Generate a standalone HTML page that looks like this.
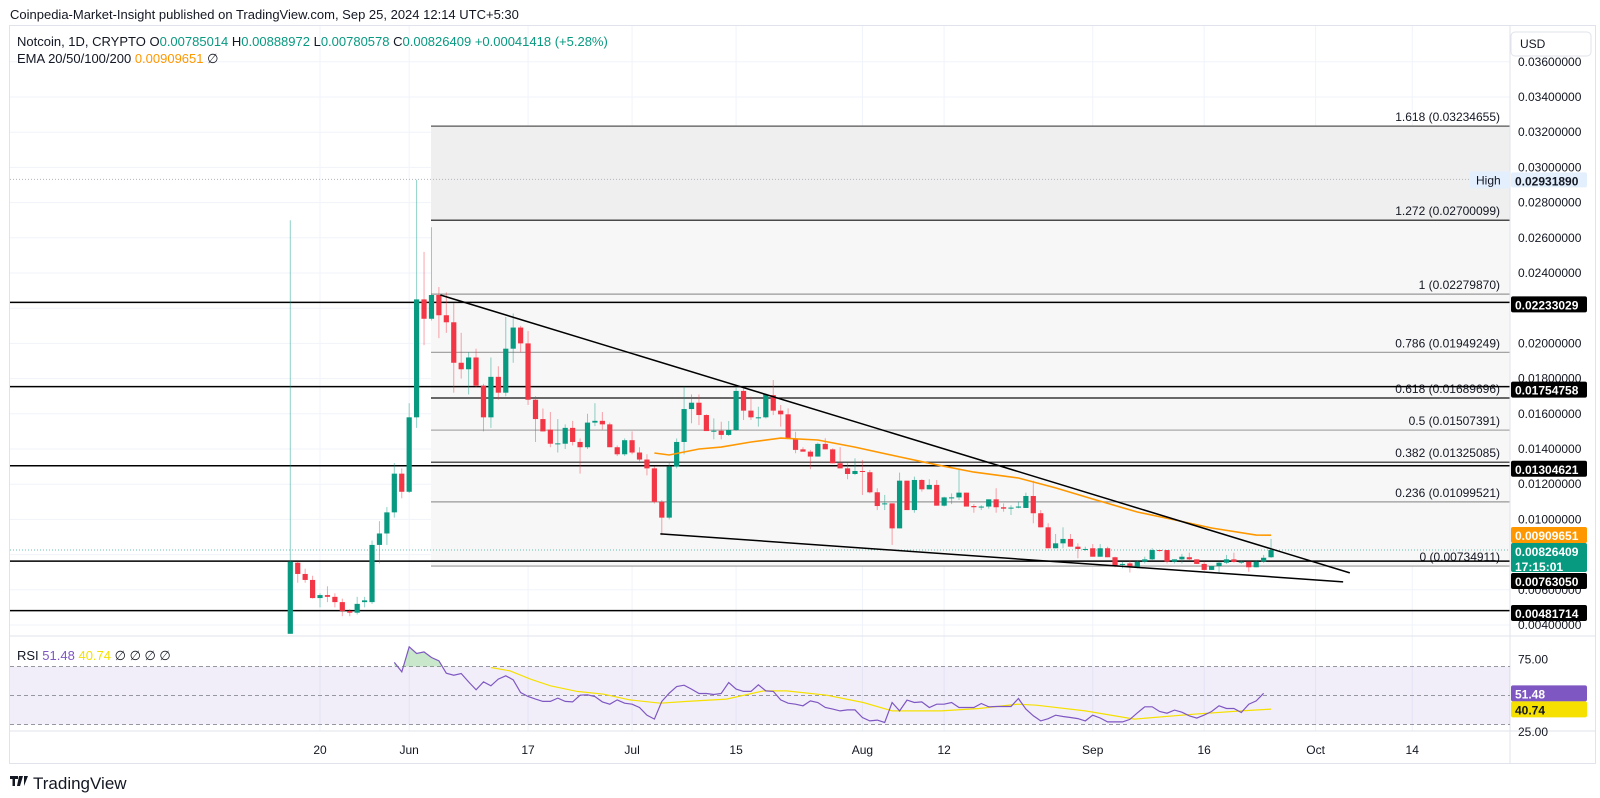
<!DOCTYPE html>
<html><head><meta charset="utf-8"><style>
html,body{margin:0;padding:0;background:#fff;width:1600px;height:798px;overflow:hidden}
svg{display:block;font-family:"Liberation Sans",sans-serif}
</style></head><body>
<svg id="chart" width="1600" height="798" viewBox="0 0 1600 798" xmlns="http://www.w3.org/2000/svg">
<rect x="0" y="0" width="1600" height="798" fill="#fff"/>
<text x="10" y="19" font-size="13" fill="#131722">Coinpedia-Market-Insight published on TradingView.com, Sep 25, 2024 12:14 UTC+5:30</text>
<rect x="9.5" y="25.5" width="1586" height="738" fill="none" stroke="#e0e3eb"/>
<g id="grid"></g>
<g id="fib"></g>
<g id="hlines"></g>
<g id="candles"></g>
<g id="overlay"></g>
<g id="rsi"></g>
<g id="axis"></g>
<text x="17" y="46" font-size="13" fill="#131722">Notcoin, 1D, CRYPTO  <tspan>O</tspan><tspan fill="#089981">0.00785014</tspan>  H<tspan fill="#089981">0.00888972</tspan>  L<tspan fill="#089981">0.00780578</tspan>  C<tspan fill="#089981">0.00826409</tspan>  <tspan fill="#089981">+0.00041418 (+5.28%)</tspan></text>
<text x="17" y="63" font-size="13" fill="#131722">EMA 20/50/100/200  <tspan fill="#ff9800">0.00909651</tspan>  ∅</text>
<text x="17" y="660" font-size="13" fill="#131722">RSI  <tspan fill="#7e57c2">51.48</tspan>  <tspan fill="#f5e000">40.74</tspan>  ∅  ∅  ∅  ∅</text>
<rect x="1511" y="32" width="80" height="24" rx="4" fill="#fff" stroke="#e0e3eb"/>
<text x="1520" y="48" font-size="12" fill="#131722">USD</text>
<g>
<path d="M10 776h8v3h-3v7h-2.5v-7H10z M19 776h4l-3 10h-3z M24 776h4l-4 10" fill="#131722"/>
<text x="33" y="789" font-size="17" fill="#131722">TradingView</text>
</g>
</svg>
<script>
const opens=[.0035,.00754,.0069,.00656,.00553,.0057,.0056,.0053,.0048,.0047,.0053,.0053,.00855,.0092,.0104,.0126,.01157,.0158,.0225,.0214,.02275,.0216,.0212,.0189,.01853,.0192,.0176,.0158,.0181,.0172,.0197,.0209,.0200,.0168,.0157,.0151,.0143,.0143,.0152,.0144,.0141,.0155,.0156,.0154,.0141,.0137,.0145,.0138,.0134,.0129,.0110,.0101,
.0130,.0144,.01627,.01663,.01593,.01502,.01504,.01480,.01508,.01730,.01618,.01580,.01580,.01706,.01618,.01597,.01457,.01398,.01385,.01357,.01429,.01398,.01319,.01290,.01258,.01275,.01268,.01154,.01091,.01091,.00949,.01220,.01053,.01224,.01171,.01196,.01078,.01125,.01125,.01152,.01076,.01073,.01073,.01114,.01069,.01067,.01067,.01065,.01133,.01035,.00955,.00836,.00864,.00889,.00845,.00832,.00836,.00788,.00836,.00785,.00747,.00750,.00728,.00760,.00773,.00826,.00826,.00760,.00773,.00785,.00773,.00747,.00713,.00735,.00754,.00773,.00760,.00760,.00728,.00760,.00785];
const highs=[.0270,.0076,.0072,.0068,.0058,.0062,.0058,.0055,.0049,.0056,.0056,.0088,.0099,.0107,.0132,.0129,.0166,.0293,.0252,.0266,.0232,.0229,.0223,.0206,.0195,.0197,.0177,.0192,.0187,.0215,.0217,.0210,.0207,.0170,.0163,.0161,.0157,.0154,.0156,.0146,.0160,.0166,.0161,.0155,.0142,.0146,.0150,.0141,.0137,.0130,.0111,.0132,
.0146,.01754,.01710,.01710,.01597,.01574,.01555,.01559,.01748,.01744,.01697,.01640,.01716,.01792,.01650,.01631,.01498,.01410,.01395,.01436,.01461,.01404,.01410,.01319,.01347,.01338,.01281,.01177,.01139,.01091,.01266,.01220,.01243,.01228,.01228,.01224,.01129,.01148,.01290,.01152,.01087,.01080,.01114,.01177,.01091,.01080,.01101,.01152,.01220,.01053,.00978,.00917,.00955,.00917,.00864,.00845,.00860,.00860,.00845,.00788,.00760,.00769,.00769,.00788,.00836,.00826,.00826,.00773,.00804,.00811,.00773,.00760,.00735,.00760,.00798,.00811,.00769,.00760,.00769,.00798,.00889];
const lows=[.0035,.0064,.0064,.0055,.0050,.0053,.0050,.0045,.0045,.0046,.0050,.0052,.0075,.00855,.0101,.0112,.0115,.0152,.0199,.0213,.0203,.0206,.0172,.0180,.0171,.0175,.0150,.0152,.0168,.0170,.0189,.0195,.0165,.0144,.0150,.0141,.0138,.0140,.0142,.0126,.0140,.0153,.0151,.0141,.0136,.0136,.0137,.0133,.0125,.0109,.0091,.0100,
.0129,.0137,.01546,.01536,.01502,.01455,.01455,.01474,.01504,.01565,.01565,.01527,.01574,.01593,.01527,.01457,.01376,.01385,.01285,.01357,.01398,.01319,.01296,.01228,.01252,.01139,.01148,.01053,.01053,.00855,.00949,.01053,.01038,.01158,.01171,.01078,.01073,.01087,.01110,.01073,.01038,.01053,.01061,.01038,.01044,.01025,.01063,.01065,.00978,.00955,.00836,.00836,.00836,.00845,.00779,.00821,.00788,.00788,.00785,.00728,.00722,.00698,.00722,.00750,.00769,.00817,.00750,.00750,.00750,.00769,.00747,.00709,.00713,.00694,.00747,.00754,.00747,.00702,.00728,.00752,.00781];
const closes=[.0076,.0069,.00656,.00553,.0057,.0056,.0053,.0048,.0047,.0052,.0054,.00855,.0092,.0104,.0126,.01157,.0158,.0225,.0214,.02275,.0216,.0212,.0189,.01853,.0192,.0176,.0158,.0181,.0172,.0197,.0209,.0200,.0168,.0157,.0150,.0143,.01432,.0152,.0144,.0141,.0155,.0156,.0154,.0141,.0137,.0145,.0138,.0134,.0129,.0110,.0101,.0130,
.0144,.01627,.01663,.01593,.01502,.01504,.01480,.01508,.01730,.01618,.01580,.01580,.01710,.01618,.01597,.01457,.01395,.01385,.01357,.01429,.01398,.01319,.01290,.01258,.01275,.01270,.01154,.01076,.01091,.00949,.01220,.01053,.01224,.01171,.01196,.01078,.01125,.01125,.01152,.01073,.01069,.01073,.01114,.01069,.01061,.01067,.01073,.01133,.01035,.00955,.00836,.00864,.00889,.00845,.00832,.00832,.00788,.00836,.00785,.00737,.00747,.00728,.00760,.00773,.00826,.00821,.00760,.00773,.00788,.00773,.00747,.00713,.00735,.00754,.00773,.00758,.00760,.00728,.00760,.00782,.00826];
const emaDays=[49,51,55,58,62,66,71,76,82,87,92,98,103,108,114,119,124,130,132];
const emaVals=[.01377,.01366,.01400,.01411,.01440,.01462,.01451,.01411,.01355,.01310,.01269,.01235,.01179,.01116,.01042,.00997,.00951,.00911,.00910];
const rsiStart=14;
const rsiVals=[72.8,66.3,83.6,79.0,80.1,76.2,73.9,65.4,64.0,65.2,59.4,53.9,59.4,56.7,61.3,63.6,60.8,52.1,49.3,47.5,45.9,45.9,48.2,45.9,45.6,50.2,50.5,49.3,45.6,44.0,47.0,44.7,44.0,41.7,36.4,33.7,45.9,51.6,56.2,57.1,54.4,51.4,51.4,50.7,51.4,59.0,54.4,52.8,52.8,57.4,53.2,52.8,47.0,44.7,44.0,42.9,46.3,45.2,41.7,40.6,39.4,40.1,40.1,34.8,
32.5,33,31.4,45.2,39.4,46.8,45.2,45.6,41.7,44,44,45.2,41.7,41.7,41.7,44.5,42.2,42.4,42.4,42.4,47.9,40.6,36,32.5,34,36.4,35.5,34.8,34.1,32.5,36.4,34.5,31.8,31.8,31.8,33.5,38,42.2,42.2,39,37.8,39.9,38.5,36,34.4,36.5,39,42.9,41,41,38.3,44,46.3,51.5];
const rsiMaDays=[27,29.6,32.3,35,38.6,42.2,45.7,49.8,53.4,58.7,63.7,66.8,72.2,77.1,81,87.6,92.7,97.9,100.4,107,113.6,121.6,128,132];
const rsiMaVals=[69.3,67,61.3,56.7,52.8,50.9,47,44.7,45.9,47.5,53.2,53.2,50.2,45.2,39.4,39.4,41,44,43.3,39.4,33.7,37.1,39.4,40.6];
const priceTicks=[0.036,0.034,0.032,0.030,0.028,0.026,0.024,0.022,0.020,0.018,0.016,0.014,0.012,0.010,0.008,0.006,0.004];
const dateIdx=[4,16,32,46,60,77,88,108,123,138,151];
const dateLabels=["20","Jun","17","Jul","15","Aug","12","Sep","16","Oct","14"];
const fibRatios=["1.618","1.272","1","0.786","0.618","0.5","0.382","0.236","0"];
const fibPrices=[0.03234655,0.02700099,0.02279870,0.01949249,0.01689696,0.01507391,0.01325085,0.01099521,0.00734911];
const levelPrices=[0.02233029,0.01754758,0.01304621,0.00763050,0.00481714];
const highPrice=0.02931890, lastPrice=0.00826409, emaLast=0.00909651;
const upperTrend=[[20.2,0.02275],[142.6,0.00696]];
const lowerTrend=[[49.8,0.00918],[141.7,0.00645]];

const NS="http://www.w3.org/2000/svg";
const X0=290.3,DX=7.43,LEFT=10,RIGHT=1510,MTOP=26,MBOT=636;
const xS=i=>X0+i*DX;
const yS=p=>695.4-17600*p;
const rY=v=>695.5-(v-50)*1.45;
function mk(parent,tag,attrs){const e=document.createElementNS(NS,tag);for(const k in attrs)e.setAttribute(k,attrs[k]);document.getElementById(parent).appendChild(e);return e;}

// grid
dateIdx.forEach((d,i)=>{
 const l=mk('grid','line',{x1:xS(d),x2:xS(d),y1:MTOP,y2:731,stroke:'#f0f3fa'});
 
 
 const t=mk('axis','text',{x:xS(d),y:754,'font-size':12,fill:'#131722','text-anchor':'middle'});
 t.textContent=dateLabels[i];
 
 
});
priceTicks.forEach(p=>{
 const l=mk('grid','line',{x1:LEFT,x2:RIGHT,y1:yS(p),y2:yS(p),stroke:'#f0f3fa'});
 
 
});
// fib
const fx1=431,fx2=RIGHT;
for(let i=0;i<fibPrices.length-1;i++){
 const r=mk('fib','rect',{x:fx1,y:yS(fibPrices[i]),width:fx2-fx1,height:yS(fibPrices[i+1])-yS(fibPrices[i]),fill:i==0?'#efefef':'#f7f7f7'});
 
 
}
const fibCol=['#555','#111','#999','#999','#111','#aaa','#222','#999','#999'];
fibPrices.forEach((p,i)=>{
 const l=mk('fib','line',{x1:fx1,x2:fx2,y1:yS(p),y2:yS(p),stroke:fibCol[i],'stroke-width':1.2});
 
 
 const t=mk('fib','text',{x:1500,y:yS(p)-5,'font-size':12,fill:'#131722','text-anchor':'end'});
 t.textContent=fibRatios[i]+' ('+p.toFixed(8)+')';
 
 
});
// levels
levelPrices.forEach(p=>{
 const l=mk('hlines','line',{x1:LEFT,x2:RIGHT,y1:yS(p),y2:yS(p),stroke:'#000','stroke-width':1.5});
 
 
});
let hl=mk('hlines','line',{x1:LEFT,x2:RIGHT,y1:yS(highPrice),y2:yS(highPrice),stroke:'#b2b5be','stroke-dasharray':'1 2'});


let lp=mk('hlines','line',{x1:LEFT,x2:RIGHT,y1:yS(lastPrice),y2:yS(lastPrice),stroke:'#089981','stroke-dasharray':'1 2','stroke-opacity':0.6});


// candles
for(let i=0;i<opens.length;i++){
 const up=closes[i]>=opens[i],c=up?'#089981':'#f23645',x=xS(i);
 const w=mk('candles','line',{x1:x,x2:x,y1:yS(highs[i]),y2:yS(lows[i]),stroke:c,'stroke-opacity':0.45});
 
 
 const y1=yS(Math.max(opens[i],closes[i])),y2=yS(Math.min(opens[i],closes[i]));
 const b=mk('candles','rect',{x:x-2.6,y:y1,width:5.2,height:Math.max(1,y2-y1),fill:c});
 
 
}
// ema
let ed=emaDays.map((d,i)=>(i?'L':'M')+xS(d).toFixed(1)+' '+yS(emaVals[i]).toFixed(1)).join(' ');
let ema=mk('overlay','path',{d:ed,fill:'none',stroke:'#ff9800','stroke-width':1.6});


[upperTrend,lowerTrend].forEach((t,k)=>{
 const l=mk('overlay','line',{x1:xS(t[0][0]),y1:yS(t[0][1]),x2:xS(t[1][0]),y2:yS(t[1][1]),stroke:'#000','stroke-width':1.5});
 
 
});
// pane separator
let sep=mk('overlay','line',{x1:LEFT,x2:1595,y1:MBOT,y2:MBOT,stroke:'#e0e3eb'});


let sep2=mk('overlay','line',{x1:LEFT,x2:1595,y1:731,y2:731,stroke:'#e0e3eb'});


let axb=mk('overlay','line',{x1:RIGHT,x2:RIGHT,y1:MTOP,y2:763,stroke:'#e0e3eb'});


// rsi
let band=mk('rsi','rect',{x:LEFT,y:rY(70),width:RIGHT-LEFT,height:rY(30)-rY(70),fill:'#7e57c2','fill-opacity':0.1});


[70,50,30].forEach(v=>{
 const l=mk('rsi','line',{x1:LEFT,x2:RIGHT,y1:rY(v),y2:rY(v),stroke:'#9598a1','stroke-dasharray':'4 3'});
 
 
});
let rp=rsiVals.map((v,i)=>(i?'L':'M')+xS(rsiStart+i).toFixed(1)+' '+rY(v).toFixed(1)).join(' ');
let clip=mk('rsi','clipPath',{id:'ob'});
const cr=document.createElementNS(NS,'rect');cr.setAttribute('x',0);cr.setAttribute('y',636);cr.setAttribute('width',1600);cr.setAttribute('height',rY(70)-636);clip.appendChild(cr);
let ob=mk('rsi','path',{d:rp+' L'+xS(rsiStart+rsiVals.length-1)+' '+rY(70)+' L'+xS(rsiStart)+' '+rY(70)+' Z',fill:'#4caf50','fill-opacity':0.3,'clip-path':'url(#ob)'});


let rma=mk('rsi','path',{d:rsiMaDays.map((d,i)=>(i?'L':'M')+xS(d).toFixed(1)+' '+rY(rsiMaVals[i]).toFixed(1)).join(' '),fill:'none',stroke:'#f5e000','stroke-width':1.2});


let rl=mk('rsi','path',{d:rp,fill:'none',stroke:'#7e57c2','stroke-width':1.2});


// axis labels
priceTicks.forEach(p=>{
 const t=mk('axis','text',{x:1518,y:yS(p)+4,'font-size':12,fill:'#131722'});
 t.textContent=p.toFixed(8);
 
 
});
[75,25].forEach(v=>{
 const t=mk('axis','text',{x:1518,y:rY(v)+4,'font-size':12,fill:'#131722'});
 t.textContent=v.toFixed(2);
 
 
});
function box(y,h,bg,fg,lines,name){
 const r=mk('axis','rect',{x:1511,y:y,width:76,height:h,fill:bg,rx:2});
 
 
 lines.forEach((s,i)=>{const t=mk('axis','text',{x:1515,y:y+13+i*15,'font-size':12,'font-weight':'bold',fill:fg});t.textContent=s;
 
 });
}
box(yS(highPrice)-7,15,'#e3effd','#131722',[highPrice.toFixed(8)],'high-price-label');
let ht=mk('axis','rect',{x:1470,y:yS(highPrice)-8,width:40,height:17,fill:'#e3effd'});


let htt=mk('axis','text',{x:1476,y:yS(highPrice)+5,'font-size':12,fill:'#131722'});htt.textContent='High';


box(yS(levelPrices[0])-6,16,'#000','#fff',[levelPrices[0].toFixed(8)],'level-label');
box(yS(levelPrices[1])-5,16,'#000','#fff',[levelPrices[1].toFixed(8)],'level-label');
box(yS(levelPrices[2])-5,16,'#000','#fff',[levelPrices[2].toFixed(8)],'level-label');
box(527,16,'#ff9800','#fff',[emaLast.toFixed(8)],'ema-price-label');
box(543,29,'#089981','#fff',[lastPrice.toFixed(8),'17:15:01'],'last-price-label');
box(573,16,'#000','#fff',[levelPrices[3].toFixed(8)],'level-label');
box(605,16,'#000','#fff',[levelPrices[4].toFixed(8)],'level-label');
box(rY(51.48)-8,16,'#7e57c2','#fff',['51.48'],'rsi-value-label');
box(rY(51.48)+8,16,'#f5e000','#131722',['40.74'],'rsi-ma-value-label');
</script>
</body></html>
